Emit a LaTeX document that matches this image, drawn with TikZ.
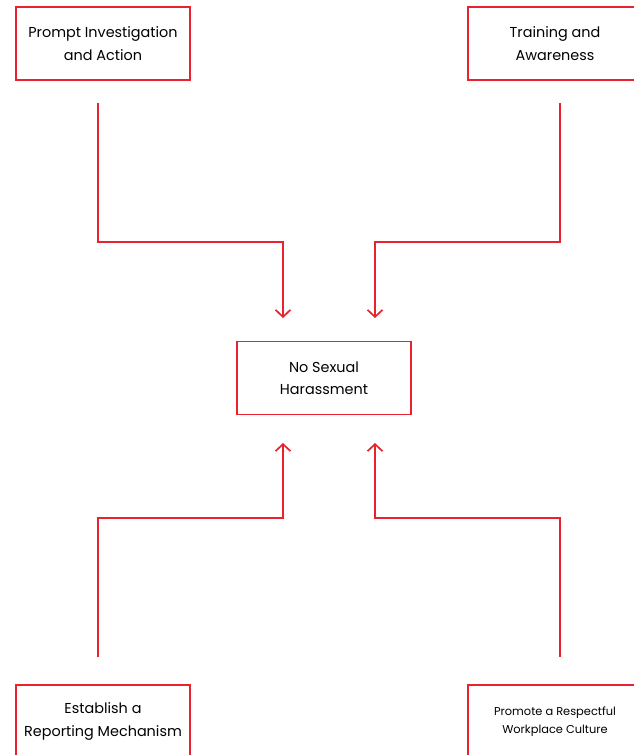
\documentclass[tikz,border=0pt]{standalone}
\usepackage{fontspec}
\setmainfont{Poppins}
\usetikzlibrary{arrows.meta}
\definecolor{ared}{HTML}{E8232F}
\begin{document}
\begin{tikzpicture}[x=1pt,y=-1pt,
  box/.style={draw=ared,line width=1.7pt,minimum width=174pt,minimum height=73pt,inner sep=0pt,align=center,font=\fontsize{14.4}{22.5}\selectfont,text=black},
  smallbox/.style={box,font=\fontsize{11.4}{18}\selectfont},
  conn/.style={draw=ared,line width=1.7pt},
  arr/.style={conn,-{Straight Barb[length=7pt,width=15pt,line width=1.7pt]}}]
\useasboundingbox (0,0) rectangle (634,755);
\node[box] (tl) at (103,43.5) {Prompt Investigation\\and Action};
\node[box] (tr) at (555,43.5) {Training and\\Awareness};
\node[box] (c) at (324,378) {No Sexual\\Harassment};
\node[box] (bl) at (103,721.5) {Establish a\\Reporting Mechanism};
\node[smallbox] (br) at (555,721.5) {Promote a Respectful\\Workplace Culture};
\coordinate (tl1) at (98,103); \coordinate (tl2) at (98,242); \coordinate (tl3) at (283,242); \coordinate (tl4) at (283,318);
\coordinate (tr1) at (560,103); \coordinate (tr2) at (560,242); \coordinate (tr3) at (375,242); \coordinate (tr4) at (375,318);
\coordinate (bl1) at (98,657); \coordinate (bl2) at (98,518); \coordinate (bl3) at (283,518); \coordinate (bl4) at (283,443);
\coordinate (br1) at (560,657); \coordinate (br2) at (560,518); \coordinate (br3) at (375,518); \coordinate (br4) at (375,443);
\draw[arr] (tl1) -- (tl2) -- (tl3) -- (tl4);
\draw[arr] (tr1) -- (tr2) -- (tr3) -- (tr4);
\draw[arr] (bl1) -- (bl2) -- (bl3) -- (bl4);
\draw[arr] (br1) -- (br2) -- (br3) -- (br4);
\end{tikzpicture}
\end{document}
